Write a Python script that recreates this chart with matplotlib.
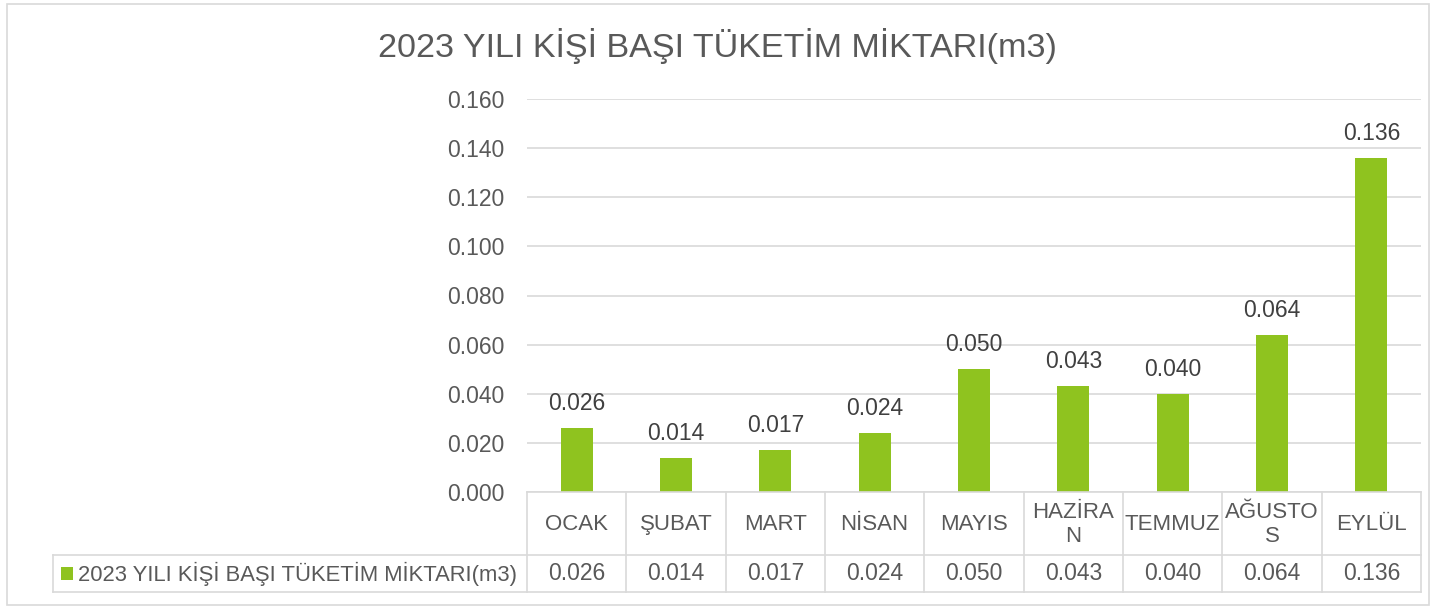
import matplotlib
matplotlib.use("Agg")
import matplotlib.pyplot as plt
from matplotlib.patches import Rectangle
from matplotlib.lines import Line2D
import matplotlib.transforms as mtransforms

categories = ["OCAK", "ŞUBAT", "MART", "NİSAN", "MAYIS", "HAZİRA\nN", "TEMMUZ", "AĞUSTO\nS", "EYLÜL"]
values = [0.026, 0.014, 0.017, 0.024, 0.050, 0.043, 0.040, 0.064, 0.136]
yticks = [0.000, 0.020, 0.040, 0.060, 0.080, 0.100, 0.120, 0.140, 0.160]
series_name = "2023 YILI KİŞİ BAŞI TÜKETİM MİKTARI(m3)"
title = "2023 YILI KİŞİ BAŞI TÜKETİM MİKTARI(m3)"

W, H = 1435, 606
plt.rcParams['font.family'] = ["Liberation Sans", "DejaVu Sans"]
TXT = "#595959"
GRID = "#d9d9d9"
GREEN = "#8fc31f"
FS = 16.5

fig = plt.figure(figsize=(W / 100, H / 100), dpi=100)
fig.patches.append(Rectangle((7 / W, 1 - 605 / H), 1422 / W, 601 / H, transform=fig.transFigure,
                             fill=False, edgecolor=GRID, linewidth=1.2))

x0, x1 = 527, 1421
ytop, ybot = 99, 492
ax = fig.add_axes([x0 / W, 1 - ybot / H, (x1 - x0) / W, (ybot - ytop) / H])
n = len(categories)
xs = list(range(n))
ax.bar(xs, values, width=0.32, color=GREEN, zorder=3)
ax.set_xlim(-0.5, n - 0.5)
ax.set_ylim(0, 0.16)
ax.set_yticks(yticks)
ax.set_yticklabels([f"{v:.3f}" for v in yticks], fontsize=FS, color=TXT)
ax.tick_params(axis='y', length=0, pad=16)
ax.set_xticks([])
ax.grid(axis='y', color=GRID, linewidth=1.2, zorder=0)
for s in ax.spines.values():
    s.set_visible(False)
for x, v in zip(xs, values):
    ax.annotate(f"{v:.3f}", (x, v), xytext=(0, 13), textcoords="offset points",
                ha="center", va="baseline", fontsize=FS, color="#404040")

fig.text(0.5, 1 - 57 / H, title, ha="center", va="baseline", fontsize=24.6, color=TXT)

# data table
tr = mtransforms.blended_transform_factory(ax.transData, fig.transFigure)
row1_top, row1_bot, row2_bot = 492, 555, 592
fy = lambda py: 1 - py / H
lw = 1.2
LX = 53
fig.add_artist(Line2D([x0 / W, x1 / W], [fy(row1_top)] * 2, transform=fig.transFigure, color=GRID, lw=lw))
fig.add_artist(Line2D([LX / W, x1 / W], [fy(row1_bot)] * 2, transform=fig.transFigure, color=GRID, lw=lw))
fig.add_artist(Line2D([LX / W, x1 / W], [fy(row2_bot)] * 2, transform=fig.transFigure, color=GRID, lw=lw))
fig.add_artist(Line2D([LX / W, LX / W], [fy(row1_bot), fy(row2_bot)], transform=fig.transFigure, color=GRID, lw=lw))
for i in range(n + 1):
    fig.add_artist(Line2D([i - 0.5, i - 0.5], [fy(row1_top), fy(row2_bot)], transform=tr, color=GRID, lw=lw))
for x, c, v in zip(xs, categories, values):
    fig.text(x, fy((row1_top + row1_bot) / 2 + 1), c, transform=tr, ha="center", va="center",
             fontsize=FS - 0.5, color=TXT, linespacing=1.2)
    fig.text(x, fy((row1_bot + row2_bot) / 2), f"{v:.3f}", transform=tr, ha="center", va="center",
             fontsize=FS, color=TXT)
fig.patches.append(Rectangle((61 / W, fy(580)), 12 / W, 13 / H, transform=fig.transFigure,
                             facecolor=GREEN, edgecolor="none"))
fig.text(78 / W, fy((row1_bot + row2_bot) / 2), series_name, ha="left", va="center",
         fontsize=15.8, color=TXT)

fig.savefig("out.png", dpi=100)
